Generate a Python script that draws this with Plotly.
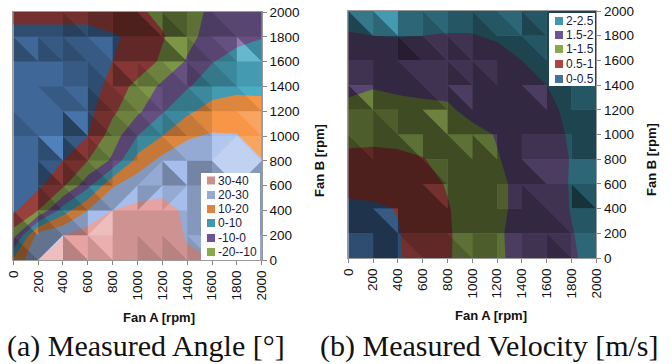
import plotly.graph_objects as go

W, H = 672, 364
FANS = [0, 200, 400, 600, 800, 1000, 1200, 1400, 1600, 1800, 2000]
TICKS = [str(v) for v in FANS]

ANGLE_Z = [
    [12, 30, 35, 36, 36, 35, 34, 32, 30, 28, 25],
    [-15, 25, 29.5, 36, 36, 36, 36, 29, 27, 27, 26],
    [-32, -20, 5, 20, 30, 32, 32, 29, 27, 28, 28],
    [-35, -32, -22, -3, 19, 26, 28, 27, 26, 27, 28],
    [-36, -35, -30, -20, -8, 14, 23, 25, 24, 28, 20.5],
    [-36, -36, -35, -30, -15, 0, 10, 19, 21, 20.5, 15],
    [-36, -36, -36, -33, -22, -12, -1, 8, 14, 15, 13],
    [-37, -37, -37, -36, -26, -17, -8, -1, 5, 7.5, 8],
    [-37, -37, -37, -35, -30, -27, -18, -9, -0.5, 4, 6],
    [-35, -35, -35, -34, -31, -28, -21, -13, -6, -3, -0.5],
    [-25, -25, -25, -26, -25, -22, -17, -14, -8, -6, -6],
]
VEL_Z = [
    [0.15, 0.3, 0.45, 0.72, 0.95, 1.22, 1.42, 1.66, 1.82, 1.95, 2.14],
    [0.2, 0.32, 0.47, 0.72, 0.95, 1.2, 1.45, 1.62, 1.8, 1.98, 2.15],
    [0.35, 0.42, 0.52, 0.75, 0.97, 1.2, 1.42, 1.6, 1.78, 2.02, 2.15],
    [0.72, 0.7, 0.75, 0.85, 1.03, 1.22, 1.42, 1.6, 1.8, 2.03, 2.15],
    [0.9, 0.88, 0.92, 0.98, 1.15, 1.35, 1.48, 1.62, 1.82, 2.02, 2.15],
    [1.13, 1.12, 1.12, 1.2, 1.3, 1.4, 1.52, 1.65, 1.85, 2.05, 2.15],
    [1.4, 1.35, 1.38, 1.42, 1.45, 1.6, 1.7, 1.8, 1.9, 2.1, 2.2],
    [1.6, 1.53, 1.58, 1.6, 1.6, 1.7, 1.8, 1.9, 2.0, 2.15, 2.25],
    [1.7, 1.7, 1.72, 1.72, 1.75, 1.8, 1.85, 2.0, 2.1, 2.2, 2.3],
    [1.96, 2.0, 2.02, 2.0, 1.97, 1.98, 2.05, 2.12, 2.2, 2.3, 2.35],
    [2.2, 2.3, 2.35, 2.3, 2.25, 2.2, 2.2, 2.25, 2.3, 2.4, 2.4],
]

# facet brightness per cell (two digits per cell), bottom row first
ANGLE_SHADE = [
    "23 39 57 68 66 56 56 56 56 56",
    "35 34 45 79 66 66 66 55 55 55",
    "55 23 34 45 57 57 67 55 55 55",
    "55 24 23 34 55 56 47 44 59 95",
    "55 37 24 34 44 55 56 66 89 98",
    "45 55 26 23 34 45 45 56 77 78",
    "55 54 45 23 34 45 44 45 66 67",
    "55 55 44 34 24 34 45 34 45 66",
    "35 34 34 45 22 22 25 34 45 85",
    "33 33 23 22 11 13 12 33 34 44",
]
ANGLE_DIAG = [
    "\\/\\\\\\\\\\\\\\\\",
    "\\\\\\/\\\\\\\\\\\\",
    "\\\\\\\\//////",
    "\\\\\\\\//\\/\\/",
    "\\\\\\\\\\\\\\\\/\\",
    "\\\\\\\\\\\\\\\\\\\\",
    "\\\\\\\\\\\\\\\\\\\\",
    "\\\\\\\\\\\\\\\\\\\\",
    "\\\\\\\\\\\\\\\\\\\\",
    "\\\\\\\\\\\\\\\\\\\\",
]
VEL_SHADE = [
    "33 11 32 22 23 22 33 22 12 33",
    "11 14 11 11 11 11 11 11 12 22",
    "11 11 11 13 11 11 22 12 22 02",
    "11 11 11 12 11 11 11 13 33 33",
    "12 11 13 11 13 13 11 22 22 11",
    "22 12 11 14 11 11 11 11 11 11",
    "14 11 11 12 13 11 11 13 11 22",
    "22 11 12 22 12 12 11 11 11 11",
    "11 11 01 12 12 11 11 12 11 11",
    "14 36 33 23 22 12 23 12 11 11",
]
VEL_DIAG = ["\\" * 10] * 10

ANGLE_COLORS = ["#4F81BD", "#C0504D", "#9BBB59", "#8064A2", "#4BACC6", "#F79646", "#A5BEEB", "#E6A3A1"]
ANGLE_LEGEND_LABELS = ["30-40", "20-30", "10-20", "0-10", "-10-0", "-20--10"]
ANGLE_LEGEND_COLORS = ["#D08E8B", "#95ABD6", "#DE8344", "#3F97B0", "#6F5393", "#8AA84C"]

VEL_COLORS = ["#4F81BD", "#C0504D", "#9BBB59", "#8064A2", "#4BACC6"]
VEL_LEGEND_LABELS = ["2-2.5", "1.5-2", "1-1.5", "0.5-1", "0-0.5"]
VEL_LEGEND_COLORS = ["#3F97B0", "#6F5393", "#8AA84C", "#AE4543", "#44719F"]


def steps(cols):
    n = len(cols)
    out = []
    for i, c in enumerate(cols):
        out += [[i / n, c], [(i + 1) / n, c]]
    return out


def shade_traces(shade, diag, xa, ya):
    groups = {}
    for r, row in enumerate(shade):
        for c, cell in enumerate(row.split()):
            x0, x1, y0, y1 = FANS[c], FANS[c + 1], FANS[r], FANS[r + 1]
            if diag[r][c] == "\\":
                tris = [[(x0, y0), (x0, y1), (x1, y0)], [(x0, y1), (x1, y1), (x1, y0)]]
            else:
                tris = [[(x0, y0), (x0, y1), (x1, y1)], [(x0, y0), (x1, y1), (x1, y0)]]
            for d, tri in zip(cell, tris):
                pts = groups.setdefault(int(d), ([], []))
                for p in tri + [tri[0]]:
                    pts[0].append(p[0])
                    pts[1].append(p[1])
                pts[0].append(None)
                pts[1].append(None)
    out = []
    for d, (xs, ys) in sorted(groups.items()):
        m = 0.3 + 0.1 * d
        if abs(m - 1) < 0.01:
            continue
        col = f"rgba(0,0,0,{1 - m:.2f})" if m < 1 else f"rgba(255,255,255,{(m - 1) * 1.5:.2f})"
        out.append(go.Scatter(x=xs, y=ys, mode="none", fill="toself", fillcolor=col,
                              hoverinfo="skip", showlegend=False, xaxis=xa, yaxis=ya))
    return out


fig = go.Figure()
fig.add_trace(go.Contour(x=FANS, y=FANS, z=ANGLE_Z, autocontour=False, zauto=False, zmin=-40, zmax=40,
                         contours=dict(start=-30, end=30, size=10, coloring="fill", showlines=False),
                         line=dict(width=0, smoothing=0), colorscale=steps(ANGLE_COLORS), showscale=False,
                         xaxis="x", yaxis="y", hoverinfo="skip"))
fig.add_trace(go.Contour(x=FANS, y=FANS, z=VEL_Z, autocontour=False, zauto=False, zmin=0, zmax=2.5,
                         contours=dict(start=0.5, end=2, size=0.5, coloring="fill", showlines=False),
                         line=dict(width=0, smoothing=0), colorscale=steps(VEL_COLORS), showscale=False,
                         xaxis="x2", yaxis="y2", hoverinfo="skip"))
for t in shade_traces(ANGLE_SHADE, ANGLE_DIAG, "x", "y") + shade_traces(VEL_SHADE, VEL_DIAG, "x2", "y2"):
    fig.add_trace(t)

TICKFONT = dict(family="Liberation Sans", size=13.5, color="#111")
PANELS = {"": (13.3, 261.7, 12, 260), "2": (348.3, 596.3, 11, 258)}
layout = dict(width=W, height=H, autosize=False, margin=dict(l=0, r=0, t=0, b=0, pad=0, autoexpand=False),
              paper_bgcolor="white", plot_bgcolor="white", showlegend=False)
for k, (l, r, t, b) in PANELS.items():
    layout["xaxis" + k] = dict(domain=[l / W, r / W], range=[0, 2000], tickvals=FANS, ticktext=TICKS,
                               tickangle=-90, ticks="outside", ticklen=4, tickcolor="#868686",
                               linecolor="#9a9a9a", linewidth=1, mirror=True, showgrid=False, zeroline=False,
                               tickfont=TICKFONT, anchor="y" + k)
    layout["yaxis" + k] = dict(domain=[1 - b / H, 1 - t / H], range=[0, 2000], tickvals=FANS, ticktext=TICKS,
                               side="right", ticks="outside", ticklen=4, tickcolor="#868686",
                               linecolor="#9a9a9a", linewidth=1, mirror=True, showgrid=False, zeroline=False,
                               tickfont=TICKFONT, anchor="x" + k)
fig.update_layout(**layout)


def label(text, px, py, size, family="Liberation Sans", angle=0, anchor="center", color="#111"):
    fig.add_annotation(text=text, x=px / W, y=1 - py / H, xref="paper", yref="paper", showarrow=False,
                       xanchor=anchor, yanchor="middle", textangle=angle,
                       font=dict(family=family, size=size, color=color))


def legend(box, sw_x, text_x, centers, labels, colors):
    fig.add_shape(type="rect", xref="paper", yref="paper", x0=box[0] / W, x1=box[1] / W,
                  y0=1 - box[3] / H, y1=1 - box[2] / H, fillcolor="white", line=dict(width=0))
    for cy, lab, col in zip(centers, labels, colors):
        fig.add_shape(type="rect", xref="paper", yref="paper", x0=sw_x / W, x1=(sw_x + 8) / W,
                      y0=1 - (cy + 4) / H, y1=1 - (cy - 4) / H, fillcolor=col, line=dict(width=0))
        label(lab, text_x, cy, 12, anchor="left", color="#1a1a40")


legend((201, 260, 173, 260), 207, 216, [180.5, 195, 209, 223, 238, 252], ANGLE_LEGEND_LABELS, ANGLE_LEGEND_COLORS)
legend((549, 595, 13, 86), 555, 564, [21, 35, 49, 64, 79], VEL_LEGEND_LABELS, VEL_LEGEND_COLORS)

label("<b>Fan A [rpm]</b>", 159, 317, 13)
label("<b>Fan A [rpm]</b>", 491, 315, 13)
label("<b>Fan B [rpm]</b>", 319, 161, 13, angle=-90)
label("<b>Fan B [rpm]</b>", 651, 160, 13, angle=-90)
label("(a) Measured Angle [°]", 146, 346, 30, family="Liberation Serif")
label("(b) Measured Velocity [m/s]", 489, 346, 30, family="Liberation Serif")

fig.write_html("out.html", config={"displayModeBar": False}, post_script="document.body.style.margin='0';")
